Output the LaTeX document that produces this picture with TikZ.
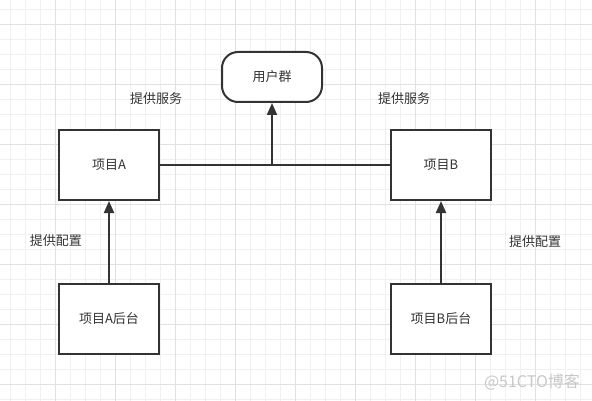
\documentclass[tikz,border=0pt]{standalone}
\usepackage{fontspec}
\usepackage{tikz}
\usetikzlibrary{arrows.meta, positioning}
\newfontfamily\cjk{Noto Sans CJK SC}
\definecolor{linecolor}{RGB}{51,51,51}
\definecolor{textcolor}{RGB}{51,51,51}
\definecolor{minorgridcolor}{RGB}{240,240,240}
\definecolor{majorgridcolor}{RGB}{225,225,225}
\definecolor{markcolor}{RGB}{200,200,200}

\begin{document}
\begin{tikzpicture}[
    x=1pt, y=-1pt,
    minorgrid/.style={draw=minorgridcolor, line width=1pt},
    majorgrid/.style={draw=majorgridcolor, line width=1pt},
    project/.style={draw=linecolor, line width=2pt, fill=white, minimum width=100pt, minimum height=70pt, font=\cjk\fontsize{13}{15}\selectfont, text=textcolor},
    usergroup/.style={draw=linecolor, line width=2pt, fill=white, minimum width=100pt, minimum height=50pt, rounded corners=16pt, font=\cjk\fontsize{13}{15}\selectfont, text=textcolor},
    tag/.style={font=\cjk\fontsize{13}{15}\selectfont, text=textcolor},
    arrow/.style={-{Triangle[length=12pt, width=10pt]}, line width=2pt, linecolor},
    link/.style={line width=2pt, linecolor}
]
    \useasboundingbox (0,0) rectangle (592,401);
    \fill[white] (0,0) rectangle (592,401);

    % Background grid
    \foreach \gx in {10,25,...,590} \draw[minorgrid] (\gx,0) -- (\gx,401);
    \foreach \gy in {9.5,24.5,...,400} \draw[minorgrid] (0,\gy) -- (592,\gy);
    \foreach \gx in {55,115,...,535} \draw[majorgrid] (\gx,0) -- (\gx,401);
    \foreach \gy in {24.5,84.5,...,385} \draw[majorgrid] (0,\gy) -- (592,\gy);

    % User group
    \node[usergroup] (users) at (272,77) {用户群};

    % Projects
    \node[project] (projA) at (109,165) {项目A};
    \node[project] (projB) at (441,165) {项目B};

    % Back ends
    \node[project] (adminA) at (109,319) {项目A后台};
    \node[project] (adminB) at (441,319) {项目B后台};

    % Connectors
    \coordinate (hub) at (users |- projA);
    \draw[link] (projA.east) -- (projB.west);
    \draw[arrow] (hub) -- (users.south);
    \draw[arrow] (adminA) -- (projA);
    \draw[arrow] (adminB) -- (projB);

    % Labels
    \node[tag] (serveA) at (156,99) {提供服务};
    \node[tag] (serveB) at (404,99) {提供服务};
    \node[tag] (confA) at (56,241) {提供配置};
    \node[tag] (confB) at (535,242) {提供配置};

    % Watermark
    \node[tag, text=markcolor, font=\cjk\fontsize{16}{18}\selectfont] (mark) at (532,382) {@51CTO博客};
\end{tikzpicture}
\end{document}
